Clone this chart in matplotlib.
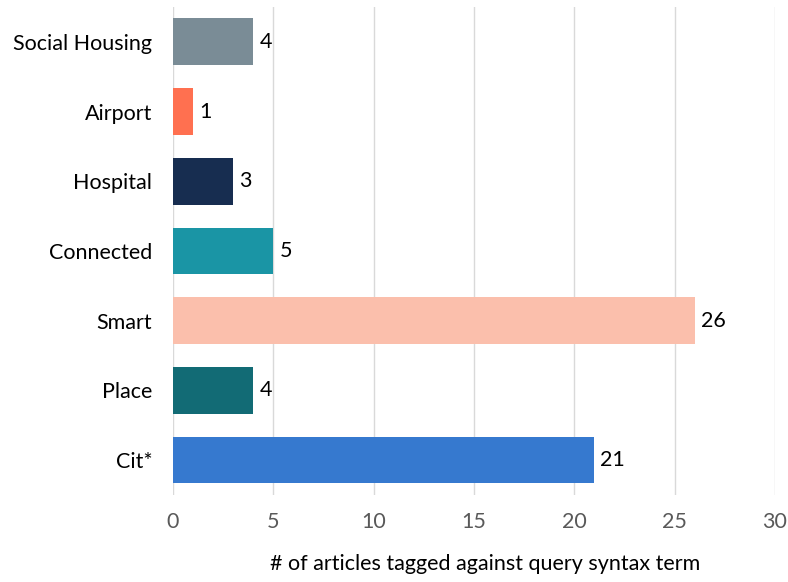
import matplotlib
matplotlib.use("Agg")
import matplotlib.pyplot as plt

# categories bottom -> top
terms = ["Cit*", "Place", "Smart", "Connected", "Hospital", "Airport", "Social Housing"]
counts = [21, 4, 26, 5, 3, 1, 4]
colors = ["#3679CF", "#126B75", "#FBBFAC", "#1A95A5", "#172D50", "#FF7050", "#7A8C96"]

plt.rcParams['font.family'] = ['Lato', 'DejaVu Sans']
fs = 15.5

fig = plt.figure(figsize=(7.88, 5.82), dpi=100)
ax = fig.add_axes([0.2195, 0.1495, 0.764, 0.8385])

bars = ax.barh(range(len(terms)), counts, height=0.67, color=colors, zorder=3)
for b, v in zip(bars, counts):
    ax.text(b.get_width() + 0.3, b.get_y() + b.get_height() / 2, str(v),
            va="center", ha="left", fontsize=fs, color="black")

ax.set_xlim(0, 30)
ax.set_ylim(-0.5, len(terms) - 0.5)
ax.set_xticks(range(0, 31, 5))
ax.set_yticks(range(len(terms)))
ax.set_yticklabels(terms, fontsize=fs, color="black")
ax.tick_params(axis="x", labelsize=fs, labelcolor="#595959", length=0, pad=12)
ax.tick_params(axis="y", length=0, pad=15)
ax.grid(axis="x", color="#d9d9d9", linewidth=1, zorder=0)
for s in ax.spines.values():
    s.set_visible(False)
ax.set_xlabel("# of articles tagged against query syntax term", fontsize=fs, labelpad=16)
ax.xaxis.label.set_x(0.518)

fig.savefig("out.png", dpi=100)
